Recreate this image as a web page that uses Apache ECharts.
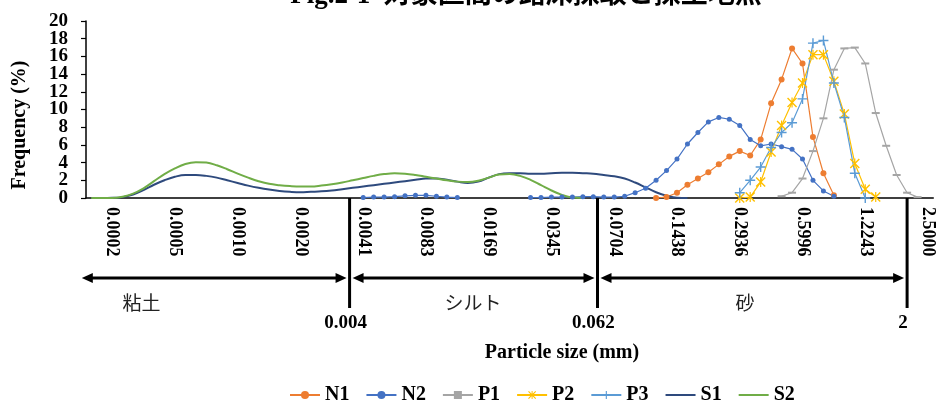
<!DOCTYPE html>
<html>
<head>
<meta charset="utf-8">
<script src="https://cdn.jsdelivr.net/npm/echarts@6/dist/echarts.min.js"></script>
<style>
  html, body { margin: 0; padding: 0; background: #fff; }
  #chart { width: 937px; height: 400px; }
</style>
</head>
<body>
<div id="chart"></div>
<script>
const SERIF = '"Liberation Serif", "Times New Roman", serif';
const JP = '"Noto Sans CJK JP", sans-serif';
const TITLE_FONT = '"Liberation Serif", "Noto Sans CJK JP", serif';

// Particle-size bins: 81 bins, a printed size every 6th bin starting at bin 2
const binCount = 81;
const firstTickBin = 2;
const binsPerTick = 6;
const sizeTicks = ['0.0002', '0.0005', '0.0010', '0.0020', '0.0041', '0.0083', '0.0169',
                   '0.0345', '0.0704', '0.1438', '0.2936', '0.5996', '1.2243', '2.5000'];

// Frequency axis
const freqMin = 0, freqMax = 20, freqStep = 2;

// Frequency (%) per bin. Each run lists consecutive bins from its start bin.
const n1Runs = [{ start: 54, values: [0, 0.1, 0.6, 1.5, 2.2, 2.9, 3.8, 4.7, 5.3, 4.8, 6.6, 10.7, 13.4, 16.9, 15.2, 6.9, 2.8, 0.3] }];
const n2Runs = [
  { start: 26, values: [0.05, 0.1, 0.1, 0.15, 0.25, 0.3, 0.3, 0.2, 0.1, 0.05] },
  { start: 42, values: [0.05, 0.05, 0.1, 0.1, 0.1, 0.15, 0.15, 0.1, 0.1, 0.2, 0.6, 1.1, 2.0, 3.1, 4.4, 6.1, 7.4, 8.6, 9.1, 8.9,
                        8.2, 6.6, 5.9, 6.1, 5.8, 5.5, 4.4, 2.0, 0.8, 0.2] }
];
const p1Runs = [{ start: 66, values: [0.2, 0.6, 2.2, 5.3, 9.0, 14.5, 16.9, 17.0, 15.2, 9.6, 5.9, 2.6, 0.6, 0.1] }];
const p2Runs = [{ start: 62, values: [0, 0.1, 1.8, 5.2, 8.2, 10.8, 13.0, 16.2, 16.2, 13.2, 9.5, 3.9, 1.0, 0.1] }];
const p3Runs = [{ start: 62, values: [0.6, 2.0, 3.5, 5.7, 7.4, 8.5, 11.2, 17.5, 17.8, 13.0, 9.1, 2.8, 0] }];
const s1Runs = [{ start: 0, values: [0, 0, 0.02, 0.1, 0.4, 0.9, 1.5, 2.0, 2.4, 2.6, 2.6, 2.5, 2.3, 2.0, 1.7, 1.4, 1.15, 0.95, 0.8, 0.7,
                                     0.65, 0.7, 0.75, 0.85, 1.0, 1.15, 1.3, 1.45, 1.6, 1.75, 1.9, 2.05, 2.2, 2.2, 2.05, 1.85, 1.7, 1.85, 2.3, 2.7,
                                     2.8, 2.8, 2.75, 2.75, 2.8, 2.85, 2.85, 2.8, 2.75, 2.6, 2.45, 2.2, 1.75, 1.2, 0.65, 0.25, 0.02, 0] }];
const s2Runs = [{ start: 0, values: [0, 0, 0, 0.15, 0.5, 1.1, 1.9, 2.7, 3.35, 3.85, 4.05, 4.0, 3.7, 3.25, 2.75, 2.3, 1.9, 1.6, 1.45, 1.35,
                                     1.3, 1.3, 1.4, 1.55, 1.75, 2.0, 2.25, 2.5, 2.7, 2.8, 2.75, 2.6, 2.4, 2.2, 2.0, 1.85, 1.8, 1.95, 2.3, 2.65,
                                     2.7, 2.5, 2.05, 1.45, 0.85, 0.35, 0.05, 0] }];

// Soil classes along the size axis (positions in bin units)
const classNames = ['粘土', 'シルト', '砂'];
const classLimits = ['0.004', '0.062', '2'];
const classLimitBins = [24.7, 48.4, 78.0];
const clayStartBin = -0.9;
const classLabelBins = [4.8, 36.5, 62.5];

function placeRuns(runs) {
  const out = new Array(binCount).fill(null);
  runs.forEach(r => r.values.forEach((v, k) => { out[r.start + k] = v; }));
  return out;
}

const categories = [];
for (let i = 0; i < binCount; i++) {
  const k = (i - firstTickBin) / binsPerTick;
  categories.push(Number.isInteger(k) && k >= 0 && k < sizeTicks.length ? sizeTicks[k] : 'bin' + i);
}

const ASTERISK = 'path://M1,0L5,4L9,0L10,1L6,5L10,9L9,10L5,6L1,10L0,9L4,5L0,1Z M4.4,0H5.6V10H4.4Z';
const PLUS = 'path://M4.3,0H5.7V4.3H10V5.7H5.7V10H4.3V5.7H0V4.3H4.3Z';

function markerSeries(name, runs, color, symbol, size) {
  return {
    name, type: 'line', data: placeRuns(runs), connectNulls: false,
    symbol, symbolSize: size, showSymbol: true, showAllSymbol: true,
    itemStyle: { color },
    lineStyle: { color, width: 1.2 },
    emphasis: { disabled: true }
  };
}
function curveSeries(name, runs, color) {
  return {
    name, type: 'line', data: placeRuns(runs), smooth: 0.4, showSymbol: false, symbol: 'none',
    itemStyle: { color },
    lineStyle: { color, width: 2 },
    emphasis: { disabled: true }
  };
}

const series = [
  markerSeries('N1', n1Runs, '#ED7D31', 'circle', 6),
  markerSeries('N2', n2Runs, '#4472C4', 'circle', 5),
  markerSeries('P1', p1Runs, '#A5A5A5', 'rect', [8, 2]),
  markerSeries('P2', p2Runs, '#FFC000', ASTERISK, 10),
  markerSeries('P3', p3Runs, '#5B9BD5', PLUS, 10),
  curveSeries('S1', s1Runs, '#2E4A7D'),
  curveSeries('S2', s2Runs, '#70AD47')
];

// The tick labels are tightly stacked; they are split over two overlaid
// axes so that none gets dropped next to the end labels.
const yLabelStyle = { margin: 18, fontFamily: SERIF, fontWeight: 'bold', fontSize: 19, color: '#000',
                      showMinLabel: true, showMaxLabel: true };
const nearEnd = (v) => v === freqMin + freqStep || v === freqMax - freqStep;

const chart = echarts.init(document.getElementById('chart'), null, { renderer: 'canvas' });
chart.setOption({
  animation: false,
  backgroundColor: '#fff',
  grid: { left: 86, right: 0, top: 21, bottom: 202, containLabel: false },
  legend: {
    left: 284, top: 380, itemWidth: 30, itemHeight: 10, itemGap: 16,
    textStyle: { fontFamily: SERIF, fontWeight: 'bold', fontSize: 20, color: '#000' },
    data: series.map(s => s.symbol === 'none'
      ? { name: s.name, itemStyle: { opacity: 0 } }
      : { name: s.name })
  },
  xAxis: {
    type: 'category', data: categories, boundaryGap: true,
    axisLine: { lineStyle: { color: '#000', width: 1.5 } },
    axisTick: { show: false },
    axisLabel: {
      interval: (i) => i >= firstTickBin && (i - firstTickBin) % binsPerTick === 0,
      rotate: -90, margin: 9,
      fontFamily: SERIF, fontWeight: 'bold', fontSize: 18, color: '#000'
    }
  },
  yAxis: [
    {
      type: 'value', min: freqMin, max: freqMax, interval: freqStep, position: 'left',
      axisLine: { show: true, lineStyle: { color: '#000', width: 1.5 } },
      axisTick: { show: true, length: 5, lineStyle: { color: '#000', width: 1.2 } },
      splitLine: { show: false },
      axisLabel: Object.assign({ formatter: (v) => nearEnd(v) ? '' : String(v) }, yLabelStyle)
    },
    {
      type: 'value', min: freqMin, max: freqMax, interval: freqStep, position: 'left', offset: 0,
      axisLine: { show: false }, axisTick: { show: false }, splitLine: { show: false },
      axisLabel: Object.assign({ formatter: (v) => nearEnd(v) ? String(v) : '' }, yLabelStyle)
    }
  ],
  series
});

// Annotations below the axis: class boundaries, range arrows and labels
const x0 = chart.convertToPixel({ xAxisIndex: 0 }, 0);
const step = chart.convertToPixel({ xAxisIndex: 0 }, 1) - x0;
const binX = (b) => x0 + b * step;
const yZero = chart.convertToPixel({ yAxisIndex: 0 }, 0);
const yArrow = yZero + 80;
const yBoundEnd = yZero + 110;

const graphics = [];
const black = { stroke: '#000', lineWidth: 3 };
classLimitBins.forEach((b, k) => {
  const x = binX(b);
  graphics.push({ type: 'line', shape: { x1: x, y1: yZero, x2: x, y2: yBoundEnd }, style: black });
  graphics.push({
    type: 'text', x: x - 4, y: yBoundEnd + 15,
    style: { text: classLimits[k], font: 'bold 19px ' + SERIF, fill: '#000', align: 'center', verticalAlign: 'middle' }
  });
});
const spans = [[clayStartBin, classLimitBins[0]], [classLimitBins[0], classLimitBins[1]], [classLimitBins[1], classLimitBins[2]]];
spans.forEach(([a, b], k) => {
  const xa = binX(a) + (k === 0 ? 0 : 3);
  const xb = binX(b) - 3;
  const head = 11, half = 5;
  graphics.push({ type: 'line', shape: { x1: xa + head - 2, y1: yArrow, x2: xb - head + 2, y2: yArrow }, style: black });
  graphics.push({ type: 'polygon', shape: { points: [[xa, yArrow], [xa + head, yArrow - half], [xa + head, yArrow + half]] }, style: { fill: '#000' } });
  graphics.push({ type: 'polygon', shape: { points: [[xb, yArrow], [xb - head, yArrow - half], [xb - head, yArrow + half]] }, style: { fill: '#000' } });
  graphics.push({
    type: 'text', x: binX(classLabelBins[k]), y: yArrow + 25,
    style: { text: classNames[k], font: '19px ' + JP, fill: '#222', align: 'center', verticalAlign: 'middle' }
  });
});
graphics.push({
  type: 'text', x: 562, y: yBoundEnd + 45,
  style: { text: 'Particle size (mm)', font: 'bold 20px ' + SERIF, fill: '#000', align: 'center', verticalAlign: 'middle' }
});
graphics.push({
  type: 'text', x: 20, y: 125, rotation: Math.PI / 2,
  style: { text: 'Frequency (%)', font: 'bold 20px ' + SERIF, fill: '#000', align: 'center', verticalAlign: 'middle' }
});
graphics.push({
  type: 'text', x: 526, y: -4,
  style: { text: 'Fig.2-1  対象区間の路床採取と採土地点', font: 'bold 27px ' + TITLE_FONT, fill: '#000', align: 'center', verticalAlign: 'middle' }
});
chart.setOption({ graphic: graphics });
</script>
</body>
</html>
